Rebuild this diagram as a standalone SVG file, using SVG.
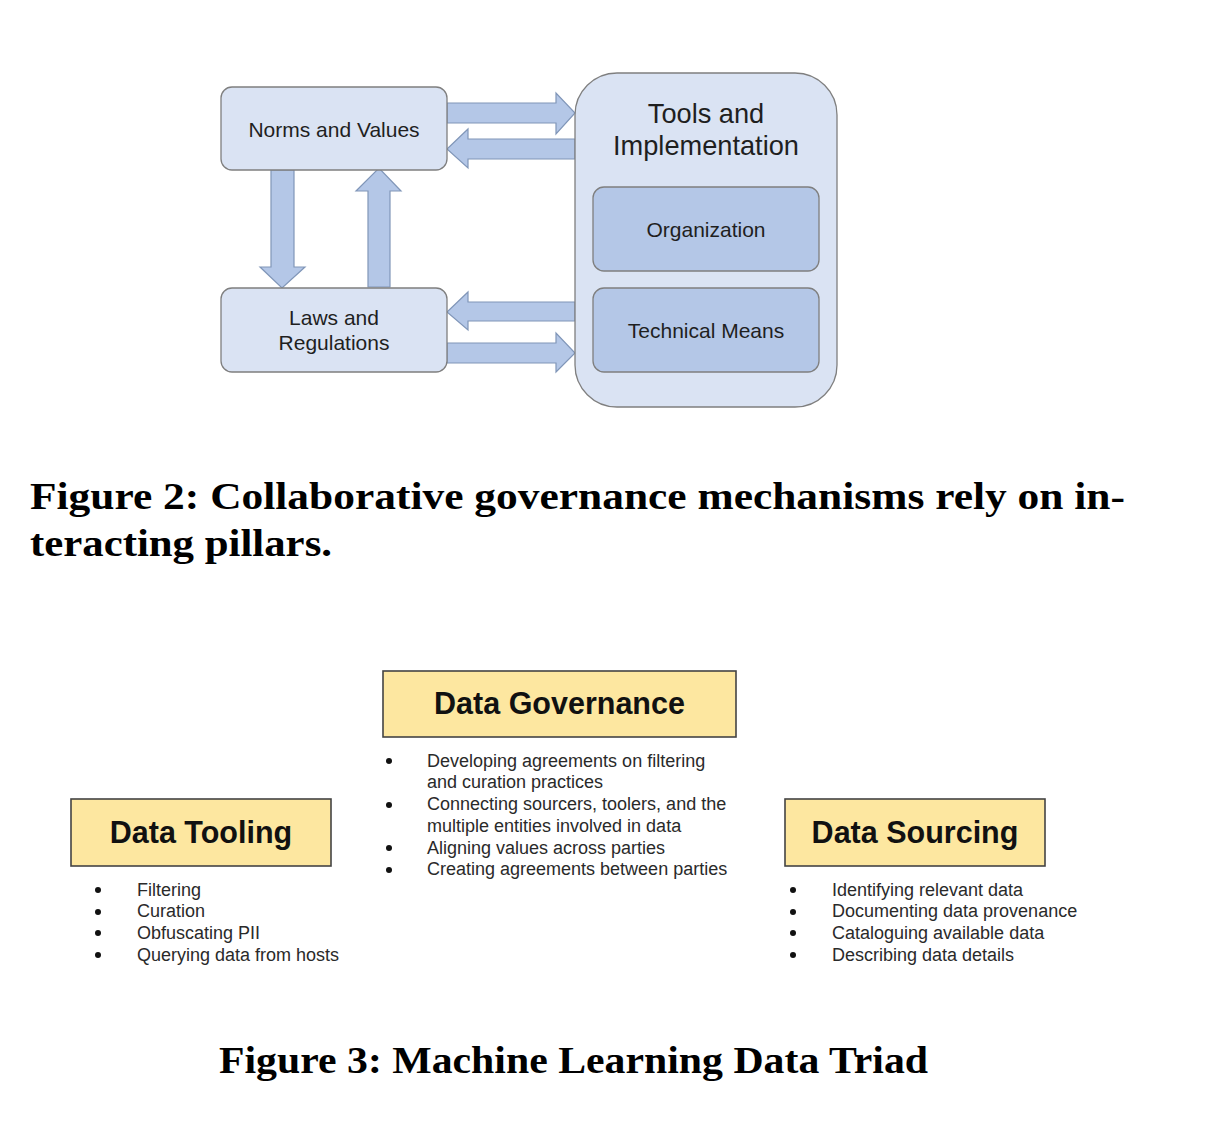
<svg xmlns="http://www.w3.org/2000/svg" width="1218" height="1140" viewBox="0 0 1218 1140">
<style>
.bg{fill:#ffffff}
.box1{fill:#dae3f3;stroke:#7f7f7f;stroke-width:1.3}
.box2{fill:#b4c7e7;stroke:#7f7f7f;stroke-width:1.3}
.arrow{fill:#b4c7e7;stroke:#8096b8;stroke-width:1.2;stroke-linejoin:miter}
.t{font-family:"Liberation Sans",Arial,sans-serif;fill:#1f1f1f;text-anchor:middle}
.ybox{fill:#fde7a0;stroke:#444;stroke-width:1.6}
.yt{font-family:"Liberation Sans",Arial,sans-serif;font-weight:bold;font-size:30.5px;fill:#111;text-anchor:middle}
.b{font-family:"Liberation Sans",Arial,sans-serif;font-size:18px;fill:#2a2a2a}
.dot{fill:#111}
.cap{font-family:"Liberation Serif","Times New Roman",serif;font-weight:bold;font-size:37px;fill:#000}
</style>
<rect class="bg" x="0" y="0" width="1218" height="1140"/>

<g id="fig2-connectors">
  <polygon class="arrow" points="447,103 556,103 556,93 575,113 556,134 556,123 447,123"/>
  <polygon class="arrow" points="575,139 468,139 468,129 447,149 468,168 468,159 575,159"/>
  <polygon class="arrow" points="271,170 294,170 294,267 305,267 282,288 260,267 271,267"/>
  <polygon class="arrow" points="368,287 390,287 390,191 401,191 379,168 356,191 368,191"/>
  <polygon class="arrow" points="575,302 468,302 468,292 447,312 468,330 468,321 575,321"/>
  <polygon class="arrow" points="447,343 556,343 556,333 575,353 556,372 556,363 447,363"/>
</g>

<g id="norms">
  <rect class="box1" x="221" y="87" width="226" height="83" rx="11"/>
  <text class="t" x="334" y="137" font-size="21">Norms and Values</text>
</g>
<g id="laws">
  <rect class="box1" x="221" y="288" width="226" height="84" rx="11"/>
  <text class="t" x="334" y="325" font-size="21">Laws and</text>
  <text class="t" x="334" y="350" font-size="21">Regulations</text>
</g>
<g id="tools">
  <rect class="box1" x="575" y="73" width="262" height="334" rx="42"/>
  <text class="t" x="706" y="123" font-size="27.2">Tools and</text>
  <text class="t" x="706" y="155" font-size="27.2">Implementation</text>
</g>
<g id="organization">
  <rect class="box2" x="593" y="187" width="226" height="84" rx="11"/>
  <text class="t" x="706" y="237" font-size="21">Organization</text>
</g>
<g id="technical">
  <rect class="box2" x="593" y="288" width="226" height="84" rx="11"/>
  <text class="t" x="706" y="338" font-size="21">Technical Means</text>
</g>

<g id="caption2">
  <text class="cap" x="30" y="509" textLength="1095" lengthAdjust="spacingAndGlyphs">Figure 2: Collaborative governance mechanisms rely on in-</text>
  <text class="cap" x="30" y="556" textLength="302" lengthAdjust="spacingAndGlyphs">teracting pillars.</text>
</g>

<g id="governance">
  <rect class="ybox" x="383" y="671" width="353" height="66"/>
  <text class="yt" x="559.5" y="714">Data Governance</text>
  <circle class="dot" cx="389" cy="761" r="3"/>
  <circle class="dot" cx="389" cy="805" r="3"/>
  <circle class="dot" cx="389" cy="848" r="3"/>
  <circle class="dot" cx="389" cy="870" r="3"/>
  <text class="b" x="427" y="767">Developing agreements on filtering</text>
  <text class="b" x="427" y="788">and curation practices</text>
  <text class="b" x="427" y="810">Connecting sourcers, toolers, and the</text>
  <text class="b" x="427" y="832">multiple entities involved in data</text>
  <text class="b" x="427" y="854">Aligning values across parties</text>
  <text class="b" x="427" y="875">Creating agreements between parties</text>
</g>

<g id="tooling">
  <rect class="ybox" x="71" y="799" width="260" height="67"/>
  <text class="yt" x="201" y="843">Data Tooling</text>
  <circle class="dot" cx="98" cy="890" r="3"/>
  <circle class="dot" cx="98" cy="912" r="3"/>
  <circle class="dot" cx="98" cy="933" r="3"/>
  <circle class="dot" cx="98" cy="955" r="3"/>
  <text class="b" x="137" y="896">Filtering</text>
  <text class="b" x="137" y="917">Curation</text>
  <text class="b" x="137" y="939">Obfuscating PII</text>
  <text class="b" x="137" y="961">Querying data from hosts</text>
</g>

<g id="sourcing">
  <rect class="ybox" x="785" y="799" width="260" height="67"/>
  <text class="yt" x="915" y="843">Data Sourcing</text>
  <circle class="dot" cx="793" cy="890" r="3"/>
  <circle class="dot" cx="793" cy="912" r="3"/>
  <circle class="dot" cx="793" cy="933" r="3"/>
  <circle class="dot" cx="793" cy="955" r="3"/>
  <text class="b" x="832" y="896">Identifying relevant data</text>
  <text class="b" x="832" y="917">Documenting data provenance</text>
  <text class="b" x="832" y="939">Cataloguing available data</text>
  <text class="b" x="832" y="961">Describing data details</text>
</g>

<g id="caption3">
  <text class="cap" x="219" y="1073" textLength="709" lengthAdjust="spacingAndGlyphs">Figure 3: Machine Learning Data Triad</text>
</g>
</svg>
